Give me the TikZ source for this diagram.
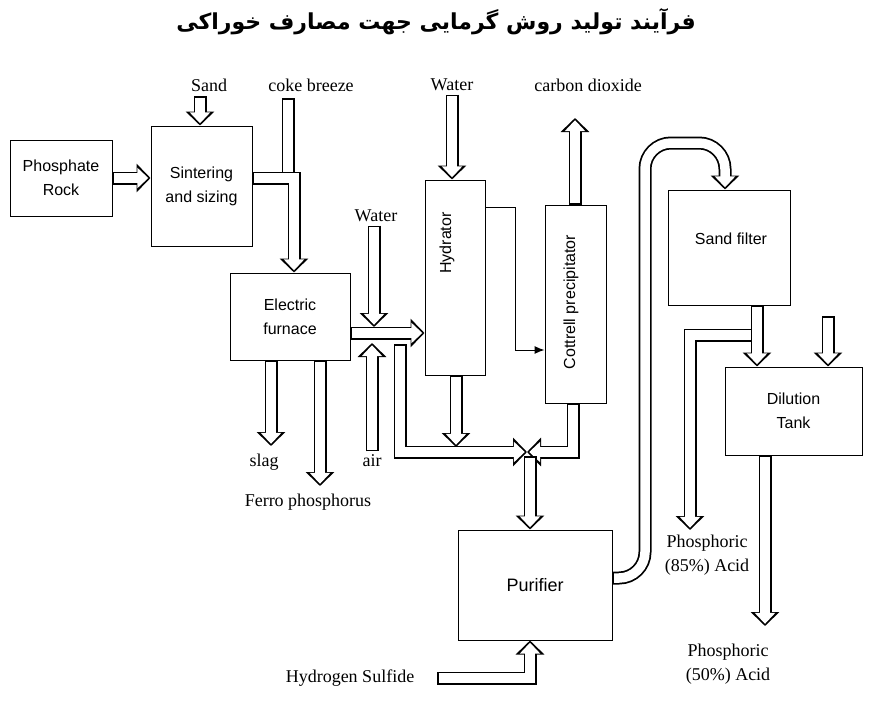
\documentclass[tikz,border=0pt]{standalone}
\usepackage{fontspec}
\setmainfont{Liberation Serif}
\setsansfont{Liberation Sans}
\newfontfamily\farsifont[Script=Arabic]{DejaVu Sans}
\TeXXeTstate=1
\usetikzlibrary{arrows.meta,positioning}
\tikzset{
	pipe/.style={line width=9.5pt, white, shorten <=1.5pt, shorten >=2.2pt,
		-{Triangle[length=11pt,width=20pt]},
		preaction={draw=black, line width=13pt, shorten <=0pt, shorten >=0pt, -{Triangle[length=14pt,width=28pt]}}},
	duct/.style={line width=9.5pt, white, shorten <=1.5pt,
		preaction={draw=black, line width=13pt, shorten <=0pt}},
	unit/.style={draw, line width=1pt, font=\sffamily\fontsize{16}{20}\selectfont, align=center, inner sep=0pt},
	lbl/.style={font=\fontsize{18}{24}\selectfont, align=center}
}
\begin{document}
\begin{tikzpicture}[x=1pt,y=-1pt]
	\useasboundingbox (0,0) rectangle (872,701);
	\node (title) at (436,22) {\farsifont\bfseries\fontsize{22}{24}\selectfont\beginR فرآیند تولید روش گرمایی جهت مصارف خوراکی\endR};
	% units
	\node[unit, minimum width=102pt, minimum height=76pt] (rock) at (61,178) {Phosphate\\[4pt]Rock};
	\node[unit, minimum width=101pt, minimum height=120pt] (sinter) at (201.5,186) {Sintering\\[4pt]and sizing};
	\node[unit, minimum width=120pt, minimum height=87pt] (furnace) at (290,316.5) {Electric\\[4pt]furnace};
	\node[unit, minimum width=60pt, minimum height=195pt] (hydrator) at (455,277.5) {};
	\node[rotate=90, font=\sffamily\fontsize{16}{20}\selectfont] at (447,243) {Hydrator};
	\node[unit, minimum width=61pt, minimum height=198pt] (cottrell) at (575.5,304) {};
	\node[rotate=90, font=\sffamily\fontsize{16}{20}\selectfont] at (571,302) {Cottrell precipitator};
	\node[unit, minimum width=154pt, minimum height=110pt] (purifier) at (535,585) {\fontsize{18}{20}\selectfont Purifier};
	\node[unit, minimum width=122pt, minimum height=115pt] (sandfilter) at (729,247.5) {};
	\node[font=\sffamily\fontsize{16}{20}\selectfont] at (731,239) {Sand filter};
	\node[unit, minimum width=137pt, minimum height=88pt] (dilution) at (793.5,411) {Dilution\\[4pt]Tank};
	% labels
	\node[lbl] (sand) at (209,85) {Sand};
	\node[lbl] (coke) at (311,85) {coke breeze};
	\node[lbl] (water1) at (376,216) {Water};
	\node[lbl] (water2) at (452,85) {Water};
	\node[lbl] (co2) at (588,85) {carbon dioxide};
	\node[lbl] (air) at (372,461) {air};
	\node[lbl] (slag) at (264,462) {slag};
	\node[lbl] (ferro) at (308,502) {Ferro phosphorus};
	\node[lbl] (hydsulf) at (350,678) {Hydrogen Sulfide};
	\node[lbl] (acid85) at (707,555) {Phosphoric\\(85\%) Acid};
	\node[lbl] (acid50) at (728,664) {Phosphoric\\(50\%) Acid};
	% pipes
	\draw[pipe] (200,96) -- (sinter.north -| 200,0);
	\draw[pipe] (rock.east) -- (sinter.west |- rock.east);
	\draw[duct] (288,98) -- (288,172);
	\draw[pipe] (sinter.east |- 0,178) -- (294,178) -- (furnace.north -| 294,0);
	\draw[pipe] (water1.south -| 374,0) -- (374,327);
	\draw[pipe] (furnace.east |- 0,333) -- (hydrator.west |- 0,333);
	\draw[pipe] (air.north -| 372,0) -- (372,343);
	\draw[pipe] (furnace.south -| 271,0) -- (271,446);
	\draw[pipe] (furnace.south -| 320,0) -- (320,486);
	\draw[pipe] (water2.south -| 452,0) -- (hydrator.north -| 452,0);
	\draw[pipe] (cottrell.north -| 575,0) -- (575,118);
	\draw[-{Latex[length=10pt,width=8pt]}, line width=1pt] (hydrator.east |- 0,207) -- (515,207) -- (515,350) -- (cottrell.west |- 0,350);
	\draw[pipe] (hydrator.south -| 456,0) -- (456,447);
	\draw[pipe] (400,344) -- (400,452) -- (527,452);
	\draw[pipe] (cottrell.south -| 573,0) -- (573,452) -- (527,452);
	\draw[pipe] (530,456) -- (purifier.north -| 530,0);
	\draw[pipe] (437,678) -- (530,678) -- (purifier.south -| 530,0);
	\draw[pipe, rounded corners=26pt] (purifier.east |- 0,578) -- (645,578) -- (645,143) -- (725,143) -- (sandfilter.north -| 725,0);
	\draw[pipe] (sandfilter.south -| 757,0) -- (dilution.north -| 757,0);
	\draw[pipe] (752,335) -- (690,335) -- (690,530);
	\draw[pipe] (828,316) -- (dilution.north -| 828,0);
	\draw[pipe] (dilution.south -| 765,0) -- (765,626);
\end{tikzpicture}
\end{document}
